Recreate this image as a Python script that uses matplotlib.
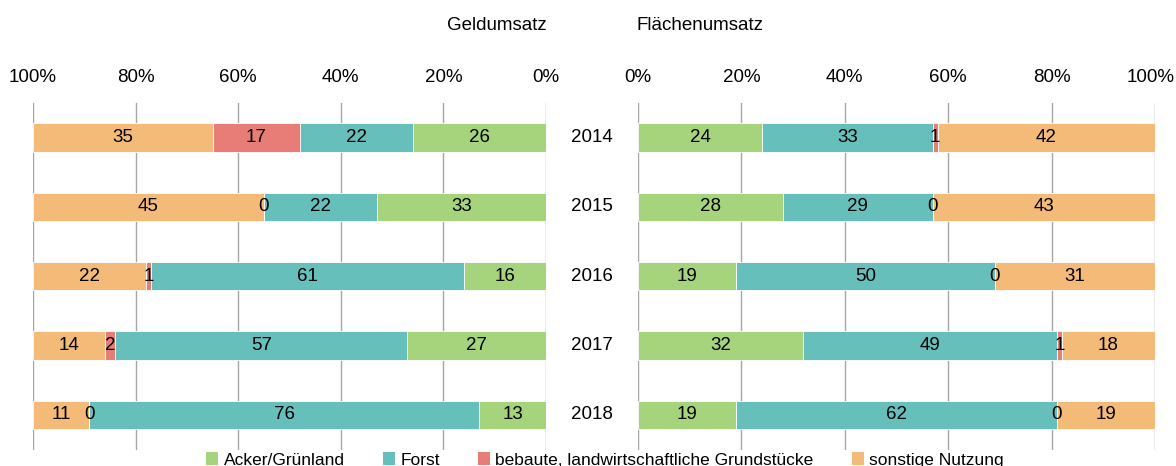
import matplotlib
matplotlib.use("Agg")
import matplotlib.pyplot as plt
import matplotlib.transforms as mtransforms
from matplotlib.ticker import FuncFormatter
from matplotlib.patches import Patch

plt.rcParams['font.family'] = ['Liberation Sans Narrow', 'Liberation Sans', 'DejaVu Sans']

years = ['2014', '2015', '2016', '2017', '2018']
kategorien = ['Acker/Grünland', 'Forst', 'bebaute, landwirtschaftliche Grundstücke', 'sonstige Nutzung']
farben = ['#A5D47D', '#66BFBB', '#E87D78', '#F3BA78']

# Geldumsatz in %
geld_acker = [26, 33, 16, 27, 13]
geld_forst = [22, 22, 61, 57, 76]
geld_bebaut = [17, 0, 1, 2, 0]
geld_sonstige = [35, 45, 22, 14, 11]

# Flaechenumsatz in %
flaeche_acker = [24, 28, 19, 32, 19]
flaeche_forst = [33, 29, 50, 49, 62]
flaeche_bebaut = [1, 0, 0, 1, 0]
flaeche_sonstige = [42, 43, 31, 18, 19]

fs = 13.5
W, H = 1176, 466
fig = plt.figure(figsize=(W / 100, H / 100), dpi=100)

top, bot = 103, 449.5
ax_l = fig.add_axes([33 / W, 1 - bot / H, (546 - 33) / W, (bot - top) / H])
ax_r = fig.add_axes([638 / W, 1 - bot / H, (1155 - 638) / W, (bot - top) / H])

y = list(range(len(years)))


def draw(ax, series):
    left = [0] * len(years)
    for vals, col in zip(series, farben):
        bars = ax.barh(y, vals, left=left, height=0.41, color=col,
                       edgecolor='white', linewidth=0.6, zorder=3)
        ax.bar_label(bars, labels=[str(v) for v in vals], label_type='center',
                     fontsize=fs, color='black', zorder=4)
        left = [a + b for a, b in zip(left, vals)]
    ax.set_ylim(4.5, -0.5)
    ax.set_yticks([])
    ax.set_xticks([0, 20, 40, 60, 80, 100])
    ax.xaxis.set_major_formatter(FuncFormatter(lambda v, p: '%d%%' % v))
    ax.xaxis.tick_top()
    ax.tick_params(axis='x', length=0, pad=12, labelsize=fs)
    ax.grid(axis='x', color='#A6A6A6', linewidth=1, zorder=0)
    for s in ax.spines.values():
        s.set_visible(False)


draw(ax_l, [geld_acker, geld_forst, geld_bebaut, geld_sonstige])
ax_l.set_xlim(100, 0)
draw(ax_r, [flaeche_acker, flaeche_forst, flaeche_bebaut, flaeche_sonstige])
ax_r.set_xlim(0, 100)

# letzte Beschriftung rechts ein Stueck nach links, damit sie nicht abgeschnitten wird
lab = ax_r.xaxis.get_major_ticks()[-1].label2
lab.set_transform(lab.get_transform() + mtransforms.ScaledTranslation(-4 / 100, 0, fig.dpi_scale_trans))

trans = mtransforms.blended_transform_factory(fig.transFigure, ax_r.transData)
for i, yr in enumerate(years):
    fig.text(592 / W, i, yr, transform=trans, ha='center', va='center', fontsize=fs)

fig.text(497 / W, 1 - 25 / H, 'Geldumsatz', ha='center', va='center', fontsize=fs)
fig.text(700 / W, 1 - 25 / H, 'Flächenumsatz', ha='center', va='center', fontsize=fs)

handles = [Patch(facecolor=c, edgecolor='none') for c in farben]
fig.legend(handles, kategorien, loc='center', bbox_to_anchor=(605 / W, 1 - 460 / H),
           ncol=4, frameon=False, fontsize=12.5, handlelength=0.7, handleheight=0.7,
           handletextpad=0.3, columnspacing=2.2)

fig.savefig('out.png', dpi=100)
